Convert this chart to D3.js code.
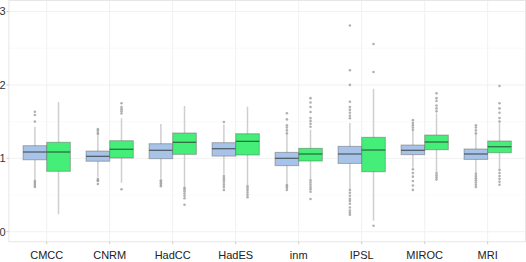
<!DOCTYPE html>
<html>
<head>
<meta charset="utf-8">
<script src="https://cdn.jsdelivr.net/npm/d3@7"></script>
<style>
  body { margin: 0; background: #fff; }
  svg { display: block; font-family: "Liberation Sans", Arial, sans-serif; }
</style>
</head>
<body>
<svg id="chart" width="526" height="262"></svg>
<script>
const models = ['CMCC', 'CNRM', 'HadCC', 'HadES', 'inm', 'IPSL', 'MIROC', 'MRI']
const series = ['blue', 'green']
const yTicks = [0, 1, 2, 3]

// blue boxes
const blueLow = [0.70, 0.75, 0.72, 0.78, 0.66, 0.59, 0.87, 0.80]
const blueQ1 = [0.98, 0.96, 0.995, 1.03, 0.90, 0.93, 1.05, 0.985]
const blueMed = [1.086, 1.027, 1.109, 1.131, 1.0, 1.059, 1.109, 1.059]
const blueQ3 = [1.172, 1.099, 1.199, 1.213, 1.081, 1.163, 1.181, 1.127]
const blueHigh = [1.43, 1.31, 1.467, 1.46, 1.33, 1.48, 1.38, 1.33]
const blueOut = [
  [1.50, 1.59, 1.635, 0.69, 0.67, 0.65, 0.63, 0.61],
  [1.33, 1.35, 1.38, 1.40, 0.72, 0.70, 0.69, 0.65],
  [0.70, 0.68, 0.66, 0.64, 0.62],
  [1.495, 0.76, 0.73, 0.70, 0.67, 0.64, 0.61, 0.57],
  [1.34, 1.38, 1.42, 1.45, 1.53, 1.613, 0.64, 0.62, 0.60, 0.57],
  [1.545, 1.58, 1.62, 1.66, 1.70, 1.77, 2.0, 2.2, 2.81,
   0.57, 0.53, 0.49, 0.45, 0.42, 0.38, 0.33, 0.29, 0.26, 0.23],
  [1.39, 1.42, 1.45, 1.48, 1.52, 0.85, 0.80, 0.75, 0.69, 0.63, 0.57],
  [1.34, 1.38, 1.42, 1.45, 0.79, 0.76, 0.73, 0.70, 0.67, 0.64, 0.61]
]

// green boxes
const greenLow = [0.237, 0.667, 0.613, 0.627, 0.714, 0.15, 0.817, 0.85]
const greenQ1 = [0.823, 1.004, 1.054, 1.045, 0.963, 0.817, 1.117, 1.076]
const greenMed = [1.086, 1.123, 1.218, 1.231, 1.059, 1.113, 1.222, 1.158]
const greenQ3 = [1.218, 1.240, 1.345, 1.335, 1.136, 1.286, 1.317, 1.236]
const greenHigh = [1.767, 1.545, 1.713, 1.703, 1.39, 1.948, 1.61, 1.477]
const greenOut = [
  [],
  [1.61, 1.64, 1.67, 1.70, 1.75, 0.578],
  [0.60, 0.58, 0.55, 0.52, 0.49, 0.455, 0.368],
  [0.62, 0.59, 0.56, 0.53, 0.50, 0.47],
  [1.43, 1.47, 1.51, 1.55, 1.63, 1.70, 1.76, 1.82, 0.70, 0.67, 0.64, 0.61, 0.58, 0.545, 0.445],
  [2.176, 2.557, 0.082],
  [1.64, 1.68, 1.72, 1.78, 1.82, 1.885, 0.80, 0.77, 0.74, 0.71],
  [1.50, 1.55, 1.62, 1.68, 1.75, 1.985, 0.84, 0.80, 0.76, 0.72, 0.68, 0.64]
]

const fills = { blue: '#a7c3e8', green: '#44ee78' }
const stats = {
  blue: { low: blueLow, q1: blueQ1, med: blueMed, q3: blueQ3, high: blueHigh, out: blueOut },
  green: { low: greenLow, q1: greenQ1, med: greenMed, q3: greenQ3, high: greenHigh, out: greenOut }
}

const svg = d3.select('#chart')
const panel = { left: 8.9, right: 525.5, top: 0.5, bottom: 241.7 }

const x = d3.scaleBand().domain(models).range([panel.left, panel.right]).paddingInner(0).paddingOuter(0.1)
const bw = x.bandwidth()
const xSub = d3.scaleBand().domain(series).range([bw * 0.125, bw * 0.875])
const y = d3.scaleLinear().domain([-0.136, 3.15]).range([panel.bottom, panel.top])

// grid
const grid = svg.append('g')
grid.selectAll('.minor')
  .data([0.5, 1.5, 2.5])
  .join('line')
  .attr('x1', panel.left).attr('x2', panel.right)
  .attr('y1', (d) => y(d)).attr('y2', (d) => y(d))
  .style('stroke', '#f7f7f7').style('stroke-width', 0.6)
grid.selectAll('.major')
  .data(yTicks)
  .join('line')
  .attr('x1', panel.left).attr('x2', panel.right)
  .attr('y1', (d) => y(d)).attr('y2', (d) => y(d))
  .style('stroke', '#f1f1f1').style('stroke-width', 1)
grid.selectAll('.vert')
  .data(models)
  .join('line')
  .attr('x1', (d) => x(d) + bw / 2).attr('x2', (d) => x(d) + bw / 2)
  .attr('y1', panel.top).attr('y2', panel.bottom)
  .style('stroke', '#f1f1f1').style('stroke-width', 1)

// boxes
series.forEach((s) => {
  const st = stats[s]
  const g = svg.append('g')
  const cx = (i) => x(models[i]) + xSub(s) + xSub.bandwidth() / 2
  const left = (i) => x(models[i]) + xSub(s)

  // whiskers
  g.selectAll('.whisker')
    .data(models)
    .join('line')
    .attr('x1', (d, i) => cx(i)).attr('x2', (d, i) => cx(i))
    .attr('y1', (d, i) => y(st.low[i])).attr('y2', (d, i) => y(st.high[i]))
    .style('stroke', '#cfcfcf').style('stroke-width', 1.5)

  // outliers
  models.forEach((m, i) => {
    g.selectAll(null)
      .data(st.out[i])
      .join('circle')
      .attr('cx', cx(i))
      .attr('cy', (d) => y(d))
      .attr('r', 1.3)
      .style('fill', '#9e9e9e')
      .style('opacity', 0.8)
  })

  g.selectAll('rect')
    .data(models)
    .join('rect')
    .attr('x', (d, i) => left(i))
    .attr('width', xSub.bandwidth())
    .attr('y', (d, i) => y(st.q3[i]))
    .attr('height', (d, i) => y(st.q1[i]) - y(st.q3[i]))
    .style('fill', fills[s])
    .style('stroke', 'rgba(90,90,90,0.45)')
    .style('stroke-width', 1)

  g.selectAll('.median')
    .data(models)
    .join('line')
    .attr('x1', (d, i) => left(i)).attr('x2', (d, i) => left(i) + xSub.bandwidth())
    .attr('y1', (d, i) => y(st.med[i])).attr('y2', (d, i) => y(st.med[i]))
    .style('stroke', 'rgba(40,40,40,0.65)')
    .style('stroke-width', 1.3)
})

// panel border
svg.append('rect')
  .attr('x', panel.left).attr('y', panel.top)
  .attr('width', panel.right - panel.left).attr('height', panel.bottom - panel.top)
  .style('fill', 'none').style('stroke', '#e6e6e6').style('stroke-width', 1)

// axes
const yAxis = svg.append('g')
yAxis.selectAll('line')
  .data(yTicks)
  .join('line')
  .attr('x1', panel.left - 2.5).attr('x2', panel.left)
  .attr('y1', (d) => y(d)).attr('y2', (d) => y(d))
  .style('stroke', '#cccccc')
yAxis.selectAll('text')
  .data(yTicks)
  .join('text')
  .attr('x', 5.5)
  .attr('y', (d) => y(d))
  .attr('dy', '0.35em')
  .attr('text-anchor', 'end')
  .style('font-size', '11px')
  .style('fill', '#333')
  .text((d) => d)

const xAxis = svg.append('g')
xAxis.selectAll('line')
  .data(models)
  .join('line')
  .attr('x1', (d) => x(d) + bw / 2).attr('x2', (d) => x(d) + bw / 2)
  .attr('y1', panel.bottom).attr('y2', panel.bottom + 2.5)
  .style('stroke', '#cccccc')
xAxis.selectAll('text')
  .data(models)
  .join('text')
  .attr('x', (d) => x(d) + bw / 2)
  .attr('y', 259.3)
  .attr('text-anchor', 'middle')
  .style('font-size', '11px')
  .style('fill', '#222')
  .text((d) => d)
</script>
</body>
</html>
